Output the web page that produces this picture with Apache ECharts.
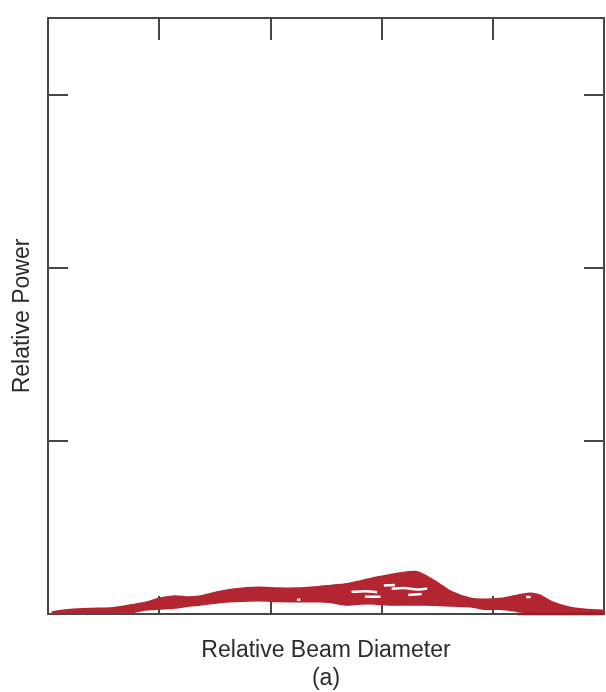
<!DOCTYPE html>
<html>
<head>
<meta charset="utf-8">
<script src="https://cdn.jsdelivr.net/npm/echarts@6/dist/echarts.min.js"></script>
<style>
html,body{margin:0;padding:0;background:#fff;}
#chart{width:606px;height:692px;}
</style>
</head>
<body>
<div id="chart"></div>
<script>
// Relative beam diameter positions (x) and the band's lower / upper edges (relative power)
var xVals = [0.04,0.20,0.38,0.56,0.74,0.87,1.01,1.14,1.27,1.37,1.53,1.68,1.89,2.07,2.22,2.43,2.54,2.67,2.81,2.94,3.08,3.18,3.30,3.39,3.51,3.63,3.80,3.93,4.08,4.20,4.33,4.42,4.53,4.69,4.83,5.00];
var upperVals = [0.012,0.026,0.032,0.035,0.052,0.066,0.092,0.104,0.098,0.104,0.129,0.145,0.154,0.150,0.150,0.158,0.165,0.173,0.191,0.211,0.228,0.239,0.245,0.225,0.179,0.129,0.091,0.085,0.091,0.106,0.120,0.110,0.071,0.039,0.027,0.020];
var lowerVals = [0.003,0.006,0.006,0.006,0.006,0.023,0.029,0.035,0.046,0.052,0.065,0.072,0.077,0.072,0.071,0.071,0.066,0.052,0.058,0.058,0.052,0.052,0.052,0.052,0.049,0.046,0.042,0.027,0.027,0.017,0.006,0,0,0,0,0];
// light gaps inside the band (null separates strokes)
var gapX = [2.73,2.85,2.96,null,3.02,3.12,null,3.09,3.20,3.32,3.41,null,2.85,2.99,null,3.24,3.36,null,2.24,2.27,null,4.30,4.34];
var gapY = [0.128,0.132,0.126,null,0.165,0.168,null,0.146,0.150,0.142,0.148,null,0.100,0.100,null,0.110,0.115,null,0.083,0.083,null,0.098,0.098];
// dark base strip along the axis at the right
var stripX = [4.22,5.0];
var stripY = [0,0];

var axisColor = '#474747';
var bandColor = '#b32631';
var bandData = xVals.map(function(x,i){ return [x, upperVals[i], lowerVals[i]]; });
var gapData = gapX.map(function(x,i){ return x===null ? '-' : [x, gapY[i]]; });

var chart = echarts.init(document.getElementById('chart'), null, {renderer:'canvas'});
function mkX(pos, len, extra){
  return Object.assign({
    type:'value', min:0, max:5, interval:1, position:pos,
    axisLine:{show:true, onZero:false, lineStyle:{color:axisColor, width:2}},
    axisTick:{show:true, inside:true, length:len, lineStyle:{color:axisColor, width:2}},
    axisLabel:{show:false}, splitLine:{show:false}
  }, extra||{});
}
function mkY(pos, extra){
  return Object.assign({
    type:'value', min:0, max:3.445, interval:1, position:pos,
    axisLine:{show:true, onZero:false, lineStyle:{color:axisColor, width:2}},
    axisTick:{show:true, inside:true, length:20, lineStyle:{color:axisColor, width:2}},
    axisLabel:{show:false}, splitLine:{show:false}
  }, extra||{});
}
chart.setOption({
  animation:false,
  backgroundColor:'#ffffff',
  grid:{left:48, right:2, top:18, bottom:78, containLabel:false, outerBoundsMode:'none'},
  xAxis:[
    mkX('bottom', 18, {name:'Relative Beam Diameter\n(a)', nameLocation:'middle', nameGap:23,
      nameTextStyle:{fontFamily:'Liberation Sans', fontSize:23, color:'#2b2b2b', lineHeight:28}}),
    mkX('top', 22)
  ],
  yAxis:[
    mkY('left', {name:'Relative Power', nameLocation:'middle', nameGap:14,
      nameTextStyle:{fontFamily:'Liberation Sans', fontSize:23, color:'#2b2b2b'}}),
    mkY('right')
  ],
  series:[
    {type:'custom', data:bandData, silent:true, z:2,
      renderItem:function(params, api){
        if (params.dataIndex !== 0) return null;
        var pts = [];
        for (var i=0;i<bandData.length;i++) pts.push(api.coord([bandData[i][0], bandData[i][1]]));
        for (var j=bandData.length-1;j>=0;j--) pts.push(api.coord([bandData[j][0], bandData[j][2]]));
        return {type:'polygon', shape:{points:pts, smooth:0.25},
          style:{fill:bandColor, stroke:bandColor, lineWidth:1.5}};
      }},
    {type:'line', data:stripX.map(function(x,i){return [x, stripY[i]];}), symbol:'none',
      lineStyle:{width:3, color:'#9a1d28'}, z:3, silent:true},
    {type:'line', data:gapData, symbol:'none', smooth:0.3, connectNulls:false,
      lineStyle:{width:2.5, color:'#ffffff'}, z:4, silent:true}
  ]
});
</script>
</body>
</html>
